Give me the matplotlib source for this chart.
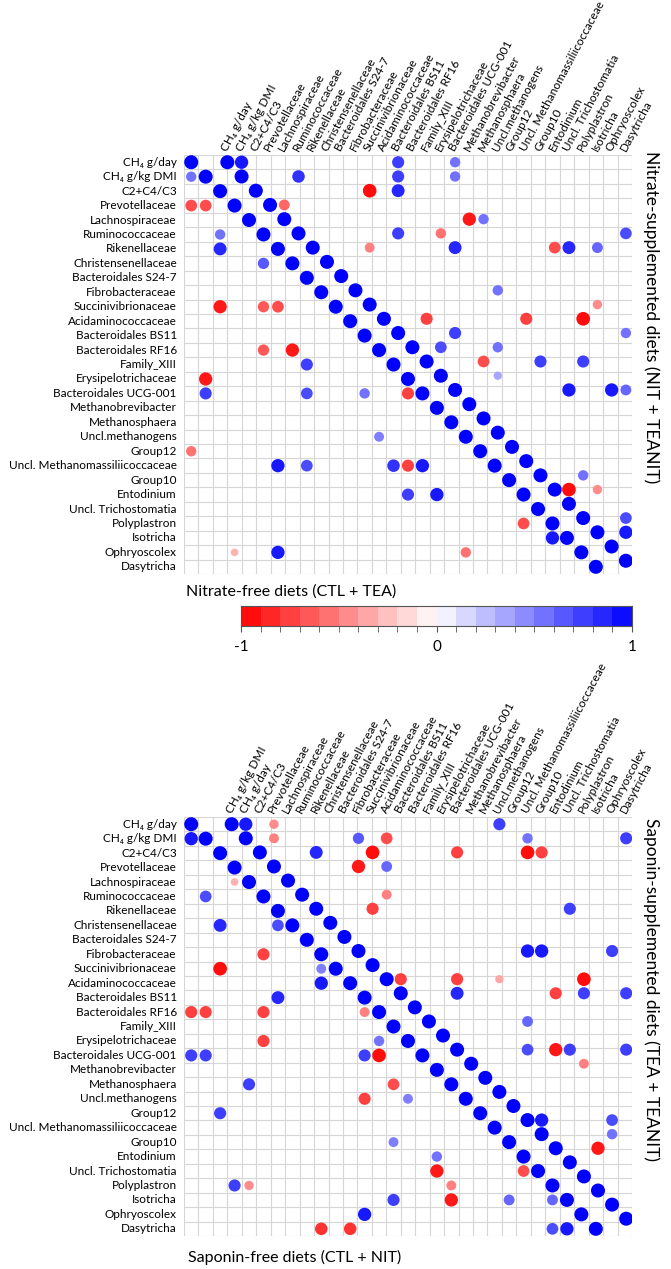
import matplotlib
matplotlib.use("Agg")
import matplotlib.pyplot as plt
import numpy as np
from matplotlib.colors import LinearSegmentedColormap

plt.rcParams["font.family"] = ["Lato", "DejaVu Sans"]

variables = [
    "CH₄ g/day", "CH₄ g/kg DMI", "C2+C4/C3", "Prevotellaceae", "Lachnospiraceae",
    "Ruminococcaceae", "Rikenellaceae", "Christensenellaceae", "Bacteroidales S24-7",
    "Fibrobacteraceae", "Succinivibrionaceae", "Acidaminococcaceae", "Bacteroidales BS11",
    "Bacteroidales RF16", "Family_XIII", "Erysipelotrichaceae", "Bacteroidales UCG-001",
    "Methanobrevibacter", "Methanosphaera", "Uncl.methanogens", "Group12",
    "Uncl. Methanomassiliicoccaceae", "Group10", "Entodinium", "Uncl. Trichostomatia",
    "Polyplastron", "Isotricha", "Ophryoscolex", "Dasytricha",
]
top_col_labels = variables
bottom_col_labels = [variables[1], variables[0]] + variables[2:]

# significant correlations (row, col, r); diagonal is 1
nitfree_row = [1, 3, 3, 5, 6, 7, 10, 10, 10, 13, 13, 14, 15, 16, 16, 16, 16, 19, 20,
               21, 21, 21, 21, 21, 23, 23, 25, 26, 27, 27, 27]
nitfree_col = [0, 0, 1, 2, 2, 5, 2, 5, 6, 5, 7, 8, 1, 1, 8, 12, 15, 13, 0,
               6, 8, 14, 15, 16, 15, 17, 23, 25, 3, 6, 19]
nitfree_r = [0.55, -0.7, -0.7, 0.55, 0.85, 0.65, -0.9, -0.65, -0.7, -0.65, -0.9, 0.75, -0.9,
             0.75, 0.7, 0.55, -0.75, 0.5, -0.55, 0.9, 0.7, 0.8, -0.75, 0.9, 0.75, 0.9,
             -0.7, 0.9, -0.3, 0.9, -0.55]

nitsup_row = [0, 0, 0, 1, 1, 1, 2, 2, 3, 4, 4, 5, 5, 5, 6, 6, 6, 6, 6, 9, 10, 11, 11, 11,
              12, 12, 13, 13, 14, 14, 14, 15, 16, 16, 16, 22, 23, 23, 25, 26]
nitsup_col = [1, 12, 16, 5, 12, 16, 10, 12, 4, 17, 18, 12, 15, 28, 10, 16, 23, 24, 26, 19,
              26, 14, 21, 25, 16, 28, 15, 19, 18, 22, 25, 19, 24, 27, 28, 25, 24, 26, 28, 28]
nitsup_r = [0.9, 0.75, 0.55, 0.8, 0.75, 0.55, -0.95, 0.85, -0.6, -0.9, 0.55, 0.75, -0.55,
            0.7, -0.5, 0.85, -0.7, 0.85, 0.6, 0.55, -0.45, -0.75, -0.75, -0.95, 0.75, 0.55,
            0.7, 0.55, -0.7, 0.75, 0.75, 0.35, 0.9, 0.9, 0.6, 0.55, -0.95, -0.45, 0.7, 0.9]

sapfree_row = [1, 4, 5, 7, 7, 9, 10, 10, 11, 12, 13, 13, 13, 13, 15, 15, 16, 16, 16, 16,
               18, 18, 19, 19, 20, 22, 23, 24, 24, 25, 25, 25, 26, 26, 26, 26, 27, 28, 28,
               28, 28]
sapfree_col = [0, 3, 1, 2, 6, 5, 2, 9, 9, 6, 0, 1, 5, 12, 5, 13, 0, 1, 12, 13,
               4, 14, 12, 15, 2, 14, 17, 17, 23, 3, 4, 18, 14, 18, 22, 25, 12, 9, 11,
               25, 26]
sapfree_r = [0.9, -0.3, 0.7, 0.85, 0.7, -0.75, -0.95, 0.5, 0.9, 0.85, -0.75, -0.75, -0.75,
             -0.5, -0.75, 0.55, 0.75, 0.75, 0.75, -0.95, 0.75, -0.7, -0.75, 0.5, 0.75, 0.5,
             0.55, -0.9, -0.7, 0.75, -0.45, -0.5, 0.75, -0.9, 0.6, 0.6, 0.9, -0.8, -0.8,
             0.7, 0.9]

sapsup_row = [0, 0, 0, 1, 1, 1, 1, 1, 2, 2, 2, 2, 2, 3, 3, 5, 6, 6, 9, 9, 9, 11, 11, 11,
              11, 12, 12, 12, 12, 14, 16, 16, 16, 16, 17, 21, 21, 22, 23]
sapsup_col = [1, 3, 19, 3, 9, 11, 21, 28, 6, 10, 16, 21, 22, 9, 11, 11, 10, 24, 21, 22,
              27, 12, 16, 19, 25, 16, 23, 25, 28, 21, 21, 23, 24, 28, 25, 22, 27, 27, 26]
sapsup_r = [0.9, -0.45, 0.75, -0.5, 0.65, -0.7, 0.55, 0.75, 0.85, -0.95, -0.75, -0.95,
            -0.75, -0.9, 0.6, -0.5, -0.75, 0.75, 0.9, 0.9, 0.75, -0.75, -0.75, -0.35, -0.95,
            0.85, -0.75, 0.75, 0.75, 0.6, 0.7, -0.9, 0.75, 0.75, -0.5, 0.9, 0.7, 0.55, -0.9]

cmap = LinearSegmentedColormap.from_list("rwb", ["#ff0000", "#ffffff", "#0000ff"])
DPI = 100
CELL = 14.45  # pixels per grid cell
NCOL = 31


def corr_matrix(rows, cols, vals):
    m = np.eye(len(variables))
    m[rows, cols] = vals
    return m


def dot_size(v):
    return (CELL * 0.97 * np.sqrt(np.abs(v)) * 72 / DPI) ** 2


def draw_panel(ax, lower, upper, col_labels, ux0, us, angle):
    n = len(variables)
    ax.set_xlim(0, NCOL)
    ax.set_ylim(n, 0)
    ax.axis("off")
    ax.vlines(np.arange(NCOL + 1), 0, n, colors="#d6d6d6", lw=0.8, zorder=1)
    ax.hlines(np.arange(n + 1), 0, NCOL, colors="#d6d6d6", lw=0.8, zorder=1)

    # lower triangle (diet without the additive)
    li, lj = np.nonzero(np.tril(lower))
    lv = lower[li, lj]
    ax.scatter(lj + 0.5, li + 0.5, s=dot_size(lv), c=lv, cmap=cmap, vmin=-1, vmax=1,
               linewidths=0, zorder=3)
    # upper triangle (diet with the additive), pasted slightly shifted
    ui, uj = np.nonzero(np.triu(upper))
    uv = upper[ui, uj]
    ax.scatter(ux0 + us * uj, 0.5 + us * ui, s=dot_size(uv), c=uv, cmap=cmap, vmin=-1,
               vmax=1, linewidths=0, zorder=3)

    for i, name in enumerate(variables):
        ax.text(-0.5, i + 0.5, name, ha="right", va="center", fontsize=8.5)
    for j, name in enumerate(col_labels):
        ax.text(ux0 + us * j - 0.2, -0.3, name, rotation=angle, rotation_mode="anchor",
                ha="left", va="center", fontsize=8.5)


W, H = 671, 1269
fig = plt.figure(figsize=(W / DPI, H / DPI), dpi=DPI)

def px_axes(x0, y0, x1, y1):
    return fig.add_axes([x0 / W, 1 - y1 / H, (x1 - x0) / W, (y1 - y0) / H])

n = len(variables)
ax_top = px_axes(184, 155, 184 + NCOL * CELL, 155 + n * CELL)
draw_panel(ax_top, corr_matrix(nitfree_row, nitfree_col, nitfree_r),
           corr_matrix(nitsup_row, nitsup_col, nitsup_r), top_col_labels, 3.0, 0.985, 62)

ax_bot = px_axes(184, 817, 184 + NCOL * CELL, 817 + n * CELL)
draw_panel(ax_bot, corr_matrix(sapfree_row, sapfree_col, sapfree_r),
           corr_matrix(sapsup_row, sapsup_col, sapsup_r), bottom_col_labels, 3.3, 0.975, 62)

fig.text(186 / W, 1 - 592 / H, "Nitrate-free diets (CTL + TEA)", fontsize=11.5,
         ha="left", va="center")
fig.text(651 / W, 1 - 317 / H, "Nitrate-supplemented diets (NIT + TEANIT)", fontsize=12.5,
         rotation=270, ha="center", va="center")
fig.text(188 / W, 1 - 1257 / H, "Saponin-free diets (CTL + NIT)", fontsize=11.5,
         ha="left", va="center")
fig.text(651 / W, 1 - 989 / H, "Saponin-supplemented diets (TEA + TEANIT)", fontsize=12.5,
         rotation=270, ha="center", va="center")

# colour legend
ax_cb = px_axes(241, 606, 632, 626)
edges = np.linspace(-1, 1, 21)
centers = (edges[:-1] + edges[1:]) / 2
ax_cb.pcolormesh(edges, [0, 1], centers[None, :], cmap=cmap, vmin=-1, vmax=1)
ax_cb.set_yticks([])
ax_cb.set_xticks(edges, minor=True)
ax_cb.set_xticks([-1, 0, 1])
ax_cb.set_xticklabels(["-1", "0", "1"], fontsize=11)
ax_cb.tick_params(which="both", direction="out", length=4, color="#555555", pad=6)
for sp in ax_cb.spines.values():
    sp.set_color("#555555")
    sp.set_linewidth(0.8)

fig.savefig("out.png", dpi=DPI)
